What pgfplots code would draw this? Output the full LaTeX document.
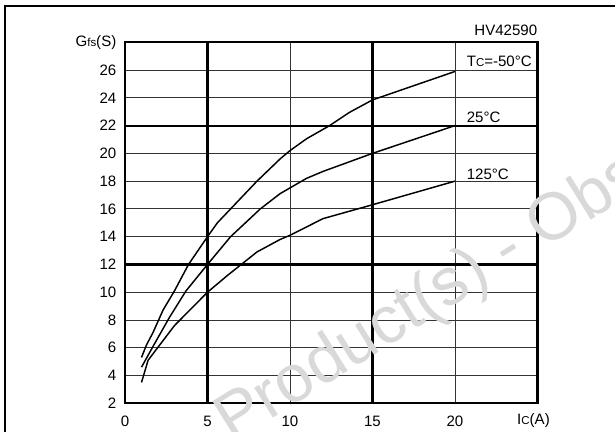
\documentclass[border=0pt]{standalone}
\usepackage{fontspec}
\setmainfont{Liberation Sans}
\usepackage{pgfplots}
\pgfplotsset{compat=1.18}
\newcommand{\fnt}{\fontsize{11.3}{13}\selectfont}
\newcommand{\sm}[1]{{\fontsize{8.6}{10}\selectfont #1}}
\begin{document}
\begin{tikzpicture}[x=0.75pt,y=0.75pt,font=\fnt]
\useasboundingbox (0,0) rectangle (615,432);
\clip (0,0) rectangle (615,432);
\draw[line width=1.5pt] (5,-20) -- (5,426) -- (640,426);
\begin{axis}[
  at={(93.75pt,21.525pt)}, anchor=south west,
  scale only axis, width=309.375pt, height=270.75pt,
  xmin=0, xmax=25, ymin=2, ymax=28,
  xtick={0,5,10,15,20}, ytick={2,4,...,26},
  major tick length=0pt,
  grid=major,
  major grid style={line width=0.7pt, black!80},
  extra x ticks={5,15}, extra x tick labels={},
  extra y ticks={12,22}, extra y tick labels={},
  extra tick style={major grid style={line width=1.6pt, black}},
  axis line style={line width=1.6pt},
  /pgf/number format/assume math mode=true,
  every tick label/.append style={font=\fnt},
  xticklabel style={anchor=center, yshift=-13.3pt},
  yticklabel style={anchor=east, inner sep=0pt, xshift=-6.3pt},
  every node/.append style={font=\fnt},
  clip=false,
]
\addplot[black, line width=1.1pt] coordinates {
(1,5.3) (1.3,6.2) (1.7,7.1) (2.3,8.7) (3,10.1) (3.85,12) (5,14) (5.6,15) (6.4,16) (8,18) (9.4,19.6) (10,20.2) (11,21.05) (12.4,22) (13.6,22.95) (15,23.85) (20,25.9)};
\addplot[black, line width=1.1pt] coordinates {
(1,4.6) (1.7,6.1) (2.7,8.2) (3.7,10.1) (5,12) (6.4,14) (8.2,16) (9.4,17.1) (11,18.2) (12,18.7) (15,20) (20,22)};
\addplot[black, line width=1.1pt] coordinates {
(1,3.5) (1.4,5.1) (3,7.6) (5,10) (6.2,11.2) (8,12.9) (9.4,13.8) (10,14.1) (12,15.3) (15,16.3) (20,18)};
\node[anchor=base west, inner sep=0pt] at (axis cs:20.7,26.25) {T\sm{C}=-50°C};
\node[anchor=base west, inner sep=0pt] at (axis cs:20.7,22.2) {25°C};
\node[anchor=base west, inner sep=0pt] at (axis cs:20.7,18.1) {125°C};
\node[anchor=base east, inner sep=0pt] at (rel axis cs:1,1) [yshift=5.3pt] {HV42590};
\node[anchor=east, inner sep=0pt] at (axis cs:0,28) [xshift=-6.3pt] {G\sm{fs}(S)};
\node[anchor=center, inner sep=0pt] at (axis cs:25,2) [yshift=-13.3pt, xshift=-3pt] {I\sm{C}(A)};
\end{axis}
% watermark
\node[rotate=32,anchor=base west,inner sep=0pt,text=black!15,font=\fontsize{50}{50}\selectfont] at (232,-12) {Product(s) - Obsolete Product(s)};
\end{tikzpicture}
\end{document}
